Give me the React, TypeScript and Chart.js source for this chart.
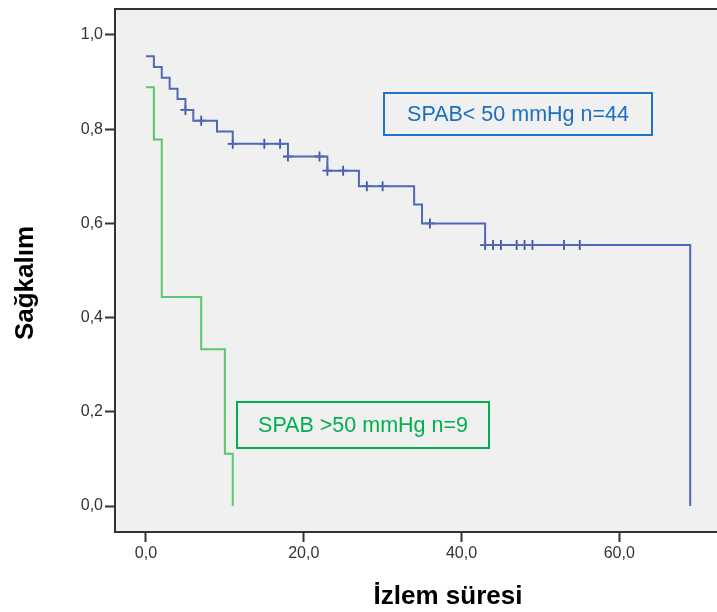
import React, { useEffect, useRef } from "react";
import { Chart, registerables } from "chart.js";

Chart.register(...registerables);

// Kaplan–Meier steps: event times and survival after each step
const blueTimes = [0, 1, 2, 3, 4, 5, 6, 9, 11, 18, 23, 27, 34, 35, 43, 69];
const blueSurvival = [0.955, 0.932, 0.909, 0.886, 0.864, 0.841, 0.818, 0.795, 0.769, 0.742, 0.712, 0.679, 0.64, 0.6, 0.554, 0.0];
const blueCensorTimes = [5, 7, 11, 15, 17, 18, 22, 23, 25, 28, 30, 36, 43, 44, 45, 47, 48, 49, 53, 55];

const greenTimes = [0, 1, 2, 7, 10, 11];
const greenSurvival = [0.889, 0.778, 0.444, 0.333, 0.111, 0.0];

const xTickValues = [0, 20, 40, 60];
const yTickValues = [0, 0.2, 0.4, 0.6, 0.8, 1.0];

const blueLabel = "SPAB< 50 mmHg n=44";
const greenLabel = "SPAB >50 mmHg n=9";
const xTitle = "İzlem süresi";
const yTitle = "Sağkalım";

function survivalAt(times: number[], surv: number[], t: number): number {
  let v = surv[0];
  for (let i = 0; i < times.length; i++) {
    if (times[i] <= t) v = surv[i];
  }
  return v;
}

const FONT = "'Liberation Sans', Arial, sans-serif";

const decorPlugin = {
  id: "decor",
  beforeDraw(chart: any) {
    const { ctx, chartArea } = chart;
    ctx.save();
    ctx.fillStyle = "#ffffff";
    ctx.fillRect(0, 0, chart.width, chart.height);
    ctx.fillStyle = "#f0f0f0";
    ctx.fillRect(chartArea.left, chartArea.top, chartArea.right - chartArea.left, chartArea.bottom - chartArea.top);
    ctx.restore();
  },
  afterDraw(chart: any) {
    const { ctx, chartArea } = chart;
    ctx.save();
    ctx.strokeStyle = "#333333";
    ctx.lineWidth = 2;
    ctx.beginPath();
    ctx.moveTo(chartArea.left, chartArea.top);
    ctx.lineTo(chartArea.right, chartArea.top);
    ctx.stroke();

    const boxes = [
      { x: 384, y: 93, w: 268, h: 42, stroke: "#1f74c4", text: blueLabel, color: "#1a6fc0" },
      { x: 237, y: 402, w: 252, h: 46, stroke: "#00b050", text: greenLabel, color: "#00b050" },
    ];
    for (const b of boxes) {
      ctx.fillStyle = "#f0f0f0";
      ctx.fillRect(b.x, b.y, b.w, b.h);
      ctx.strokeStyle = b.stroke;
      ctx.lineWidth = 2;
      ctx.strokeRect(b.x, b.y, b.w, b.h);
      ctx.fillStyle = b.color;
      ctx.font = `21.5px ${FONT}`;
      ctx.textAlign = "center";
      ctx.textBaseline = "middle";
      ctx.fillText(b.text, b.x + b.w / 2, b.y + b.h / 2 + 1);
    }

    ctx.fillStyle = "#000000";
    ctx.font = `bold 26px ${FONT}`;
    ctx.textAlign = "center";
    ctx.textBaseline = "alphabetic";
    ctx.fillText(xTitle, 448, 604);

    ctx.translate(33, 283);
    ctx.rotate(-Math.PI / 2);
    ctx.fillText(yTitle, 0, 0);
    ctx.restore();
  },
};

function zeroPadding(scale: any) {
  scale.paddingLeft = 0;
  scale.paddingRight = 0;
  scale.paddingTop = 0;
  scale.paddingBottom = 0;
}

export default function App() {
  const ref = useRef<HTMLCanvasElement | null>(null);

  useEffect(() => {
    if (!ref.current) return;
    const blueLine = blueTimes.map((t, i) => ({ x: t, y: blueSurvival[i] }));
    const greenLine = greenTimes.map((t, i) => ({ x: t, y: greenSurvival[i] }));
    const blueCensor = blueCensorTimes.map((t) => ({ x: t, y: survivalAt(blueTimes, blueSurvival, t) }));

    const chart = new Chart(ref.current, {
      type: "line",
      data: {
        datasets: [
          {
            label: "green",
            data: greenLine,
            borderColor: "#5cc66c",
            borderWidth: 2,
            pointRadius: 0,
            stepped: true,
            fill: false,
          },
          {
            label: "blue",
            data: blueLine,
            borderColor: "#5068b6",
            borderWidth: 2,
            pointRadius: 0,
            stepped: true,
            fill: false,
          },
          {
            label: "censor",
            data: blueCensor,
            showLine: false,
            borderColor: "#3d55a8",
            backgroundColor: "#3d55a8",
            pointStyle: "cross",
            pointRadius: 5,
            pointBorderWidth: 1.8,
          } as any,
        ],
      },
      options: {
        animation: false,
        responsive: false,
        maintainAspectRatio: false,
        devicePixelRatio: 1,
        layout: { autoPadding: false, padding: { top: 9, left: 0, right: 0, bottom: 0 } },
        plugins: {
          legend: { display: false },
          tooltip: { enabled: false },
        },
        scales: {
          x: {
            type: "linear",
            min: -3.93,
            max: 72.4,
            afterFit(scale: any) {
              scale.height = 80;
              zeroPadding(scale);
            },
            afterBuildTicks(scale: any) {
              scale.ticks = xTickValues.map((v) => ({ value: v }));
            },
            ticks: {
              callback: (v: any) => Number(v).toFixed(1).replace(".", ","),
              font: { family: FONT, size: 16 },
              color: "#333333",
              padding: 2,
              maxRotation: 0,
              autoSkip: false,
            },
            grid: {
              drawOnChartArea: false,
              drawTicks: true,
              tickLength: 10,
              tickWidth: 2,
              tickColor: "#333333",
            },
            border: { display: true, color: "#333333", width: 2 },
          },
          y: {
            type: "linear",
            min: -0.0552,
            max: 1.0552,
            afterFit(scale: any) {
              scale.width = 115;
              zeroPadding(scale);
            },
            afterBuildTicks(scale: any) {
              scale.ticks = yTickValues.map((v) => ({ value: v }));
            },
            ticks: {
              callback: (v: any) => Number(v).toFixed(1).replace(".", ","),
              font: { family: FONT, size: 16 },
              color: "#333333",
              padding: 2,
              autoSkip: false,
            },
            grid: {
              drawOnChartArea: false,
              drawTicks: true,
              tickLength: 10,
              tickWidth: 2,
              tickColor: "#333333",
            },
            border: { display: true, color: "#333333", width: 2 },
          },
        },
      },
      plugins: [decorPlugin],
    });
    return () => chart.destroy();
  }, []);

  return (
    <div style={{ position: "absolute", left: 0, top: 0, width: 717, height: 612 }}>
      <canvas ref={ref} width={717} height={612} style={{ width: 717, height: 612, display: "block" }} />
    </div>
  );
}
